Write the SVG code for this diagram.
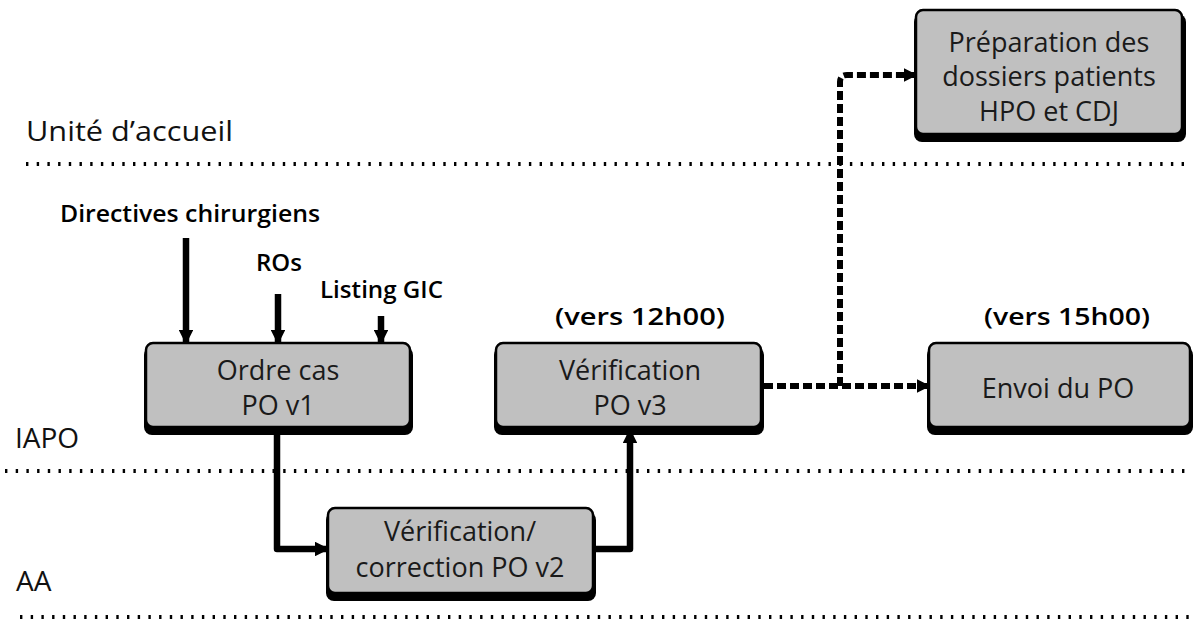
<svg xmlns="http://www.w3.org/2000/svg" width="1199" height="621" viewBox="0 0 1199 621">
  <defs>
    <style>
      .lane { stroke: #000; stroke-width: 4; stroke-dasharray: 2.4 8.3; fill: none; }
      .box { fill: #c0c0c0; stroke: #000; stroke-width: 2.5; }
      .shadow { fill: #000; }
      .label { font-family: "Open Sans", "Noto Sans", sans-serif; font-size: 28px; fill: #111; }
      .blabel { font-family: "Open Sans", "Noto Sans", sans-serif; font-size: 24px; font-weight: 600; fill: #000; }
      .btext { font-family: "Open Sans", "Noto Sans", sans-serif; font-size: 27px; fill: #1a1a1a; text-anchor: middle; }
      .solid { stroke: #000; stroke-width: 6.5; fill: none; stroke-linejoin: round; }
      .dash { stroke: #000; stroke-width: 6; fill: none; stroke-dasharray: 9 4; stroke-linejoin: round; }
    </style>
    <marker id="head" viewBox="0 0 10 10" refX="9" refY="5" markerWidth="2.3" markerHeight="2.3" orient="auto" markerUnits="strokeWidth">
      <path d="M0,0 L10,5 L0,10 z" fill="#000"/>
    </marker>
  </defs>

  <!-- swimlane separators -->
  <g id="lanes">
    <line class="lane" x1="26" y1="164" x2="1192" y2="164"/>
    <line class="lane" x1="5" y1="471" x2="1192" y2="471"/>
    <line class="lane" x1="20" y1="617" x2="1192" y2="617"/>
  </g>

  <!-- lane names and free labels -->
  <g id="lane-labels">
    <text class="label" x="26" y="141" textLength="207" lengthAdjust="spacingAndGlyphs">Unité d’accueil</text>
    <text class="label" x="15" y="448" font-size="27">IAPO</text>
    <text class="label" x="16" y="591" font-size="27">AA</text>
  </g>
  <g id="input-labels">
    <text class="blabel" x="60" y="222" textLength="260" lengthAdjust="spacingAndGlyphs">Directives chirurgiens</text>
    <text class="blabel" x="256" y="271">ROs</text>
    <text class="blabel" x="320" y="298" textLength="123" lengthAdjust="spacingAndGlyphs">Listing GIC</text>
    <text class="blabel" x="555" y="325" font-size="26" textLength="170" lengthAdjust="spacingAndGlyphs">(vers 12h00)</text>
    <text class="blabel" x="984" y="325" font-size="26" textLength="166" lengthAdjust="spacingAndGlyphs">(vers 15h00)</text>
  </g>

  <!-- connectors -->
  <g id="connectors">
    <line class="solid" x1="186" y1="238" x2="186" y2="343" marker-end="url(#head)"/>
    <line class="solid" x1="278" y1="294" x2="278" y2="343" marker-end="url(#head)"/>
    <line class="solid" x1="381" y1="316" x2="381" y2="343" marker-end="url(#head)"/>
    <path class="solid" d="M277,430 V549 H328" marker-end="url(#head)"/>
    <path class="solid" d="M594,549 H630 V430" marker-end="url(#head)"/>
    <path class="dash" d="M764,386 H929" marker-end="url(#head)"/>
    <path class="dash" d="M840,386 V82 Q840,75 847,75 H916" marker-end="url(#head)"/>
  </g>

  <!-- process nodes -->
  <g id="ordre-cas">
    <rect class="shadow" x="144" y="347" width="269" height="88" rx="8"/>
    <rect class="box" x="146" y="343" width="264" height="84" rx="7"/>
    <text class="btext" x="278" y="380">Ordre cas</text>
    <text class="btext" x="278" y="415">PO v1</text>
  </g>
  <g id="verification-v3">
    <rect class="shadow" x="494" y="347" width="270" height="88" rx="8"/>
    <rect class="box" x="496" y="343" width="265" height="84" rx="7"/>
    <text class="btext" x="630" y="380">Vérification</text>
    <text class="btext" x="630" y="415">PO v3</text>
  </g>
  <g id="envoi-po">
    <rect class="shadow" x="927" y="347" width="266" height="88" rx="8"/>
    <rect class="box" x="929" y="343" width="261" height="84" rx="7"/>
    <text class="btext" x="1058" y="398">Envoi du PO</text>
  </g>
  <g id="preparation-dossiers">
    <rect class="shadow" x="914" y="14" width="272" height="128" rx="8"/>
    <rect class="box" x="916" y="10" width="266" height="124" rx="7"/>
    <text class="btext" x="1049" y="52">Préparation des</text>
    <text class="btext" x="1049" y="86">dossiers patients</text>
    <text class="btext" x="1049" y="121">HPO et CDJ</text>
  </g>
  <g id="verification-v2">
    <rect class="shadow" x="326" y="512" width="270" height="89" rx="8"/>
    <rect class="box" x="328" y="508" width="265" height="85" rx="7"/>
    <text class="btext" x="460" y="541">Vérification/</text>
    <text class="btext" x="460" y="577">correction PO v2</text>
  </g>
</svg>
